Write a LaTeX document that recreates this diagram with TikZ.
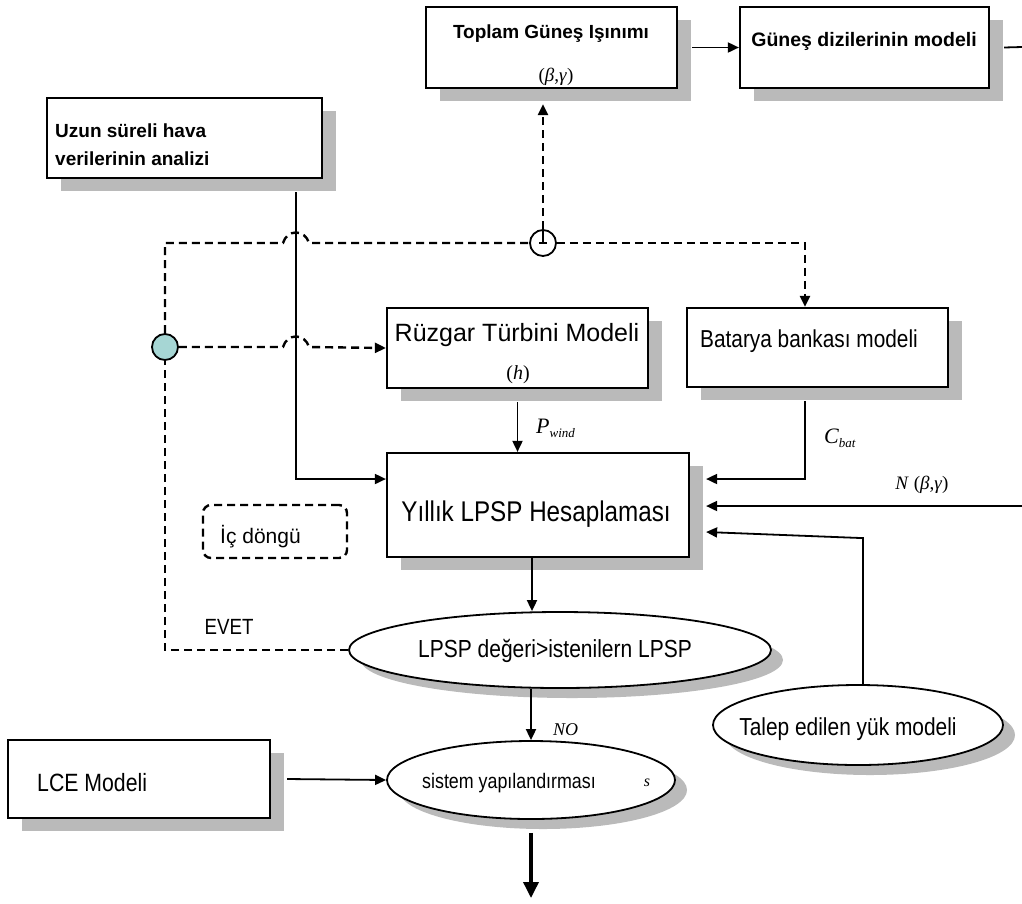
\documentclass[tikz,border=0pt]{standalone}
\usepackage{fontspec}
\setmainfont{Liberation Sans}
\newfontfamily\narrowf{Liberation Sans}[FakeStretch=0.85]
\newfontfamily\serf{Liberation Serif}
\usetikzlibrary{arrows.meta,shadows,shapes.geometric}
\definecolor{shadowgray}{RGB}{186,186,186}
\definecolor{tealfill}{RGB}{166,214,212}
\newcommand{\fs}[1]{\fontsize{#1}{#1}\selectfont}
\begin{document}
\begin{tikzpicture}[x=1pt,y=-1pt,
  boxshadow/.style={drop shadow={shadow xshift=14pt,shadow yshift=-13pt,fill=shadowgray,opacity=1}},
  block/.style={rectangle,draw=black,line width=2.2pt,fill=white,inner sep=0pt,boxshadow},
  oval/.style={ellipse,draw=black,line width=1.8pt,fill=white,inner sep=0pt,
    drop shadow={shadow xshift=12pt,shadow yshift=-10pt,fill=shadowgray,opacity=1}},
  lab/.style={inner sep=0pt,anchor=center},
  flow/.style={line width=1.8pt,-{Triangle[length=11pt,width=10pt]}},
  plain/.style={line width=1.8pt},
  dashline/.style={line width=2.4pt,dash pattern=on 8pt off 5pt},
  dashlinear/.style={dashline,-{Triangle[length=11pt,width=10pt]}},
  junction/.style={circle,draw=black,line width=1.8pt,minimum size=26pt,inner sep=0pt},
]
\useasboundingbox (0,0) rectangle (1022,903);

% --- blocks ---
\node[block,minimum width=251pt,minimum height=81pt] (toplam) at (551.5,47.5) {};
\node[lab,font=\bfseries\fs{19}] (toplamT) at (551,34) {Toplam Güneş Işınımı};
\node[lab,font=\serf\fs{19}] (toplamB) at (556,77) {(\textit{β},\textit{γ})};

\node[block,minimum width=249pt,minimum height=81pt] (gunes) at (864.5,47.5) {};
\node[lab,font=\bfseries\fs{19.5}] (gunesT) at (864,41) {Güneş dizilerinin modeli};

\node[block,minimum width=275pt,minimum height=80pt] (uzun) at (184.5,138) {};
\node[lab,anchor=base west,font=\bfseries\fs{19}] (uzunT1) at (55,137) {Uzun süreli hava};
\node[lab,anchor=base west,font=\bfseries\fs{19}] (uzunT2) at (55,165) {verilerinin analizi};

\node[block,minimum width=261pt,minimum height=80pt] (ruzgar) at (517.5,348) {};
\node[lab,font=\fs{25}] (ruzgarT) at (517,335) {Rüzgar Türbini Modeli};
\node[lab,font=\serf\fs{20}] (ruzgarH) at (518,375) {(\textit{h})};

\node[block,minimum width=261pt,minimum height=79pt] (batarya) at (817.5,347.5) {};
\node[lab,anchor=west,font=\narrowf\fs{24.5}] (bataryaT) at (700,341) {Batarya bankası modeli};

\node[block,minimum width=302pt,minimum height=104pt] (lpsp) at (538,505) {};
\node[lab,font=\narrowf\fs{28.5}] (lpspT) at (536,514) {Yıllık LPSP Hesaplaması};

\node[draw,dashline,rounded corners=8pt,minimum width=144pt,minimum height=53pt] (ic) at (275,531.5) {};
\node[lab,anchor=west,font=\fs{21}] (icT) at (220,537) {İç döngü};

\node[lab,font=\narrowf\fs{22}] (evet) at (229,627) {EVET};

\node[oval,minimum width=422pt,minimum height=76pt] (lpspell) at (560,650) {};
\node[lab,font=\narrowf\fs{24.7}] (lpspellT) at (555,651) {LPSP değeri>istenilern LPSP};

\node[oval,minimum width=290pt,minimum height=80pt] (talep) at (858,725) {};
\node[lab,font=\narrowf\fs{24.6}] (talepT) at (848,729) {Talep edilen yük modeli};

\node[oval,minimum width=288pt,minimum height=78pt] (sistem) at (531,780) {};
\node[lab,font=\narrowf\fs{21}] (sistemT) at (509,783) {sistem yapılandırması};
\node[lab,font=\serf\itshape\fs{16}] (sistemS) at (647,783) {s};

\node[block,minimum width=262pt,minimum height=78pt] (lce) at (139,779) {};
\node[lab,anchor=west,font=\narrowf\fs{25}] (lceT) at (37,783) {LCE Modeli};

% --- junctions ---
\node[junction,fill=tealfill] (tc) at (165,347) {};
\node[junction,fill=white] (oc) at (543,243) {};
\draw[line width=1.8pt] (oc.north) -- (oc.center);
\draw[line width=1.8pt] ([xshift=-4pt]oc.center) -- ([xshift=4pt]oc.center);

% --- signal labels ---
\node[lab,anchor=west,font=\serf\itshape\fs{22}] (pw) at (536,428) {P\raisebox{-4pt}{\fs{13}wind}};
\node[lab,anchor=west,font=\serf\itshape\fs{22}] (cb) at (824,438) {C\raisebox{-4pt}{\fs{13}bat}};
\node[lab,font=\serf\fs{19}] (nb) at (922,485) {\textit{N} (\textit{β},\textit{γ})};
\node[lab,anchor=west,font=\serf\itshape\fs{18}] (no) at (553,730) {NO};

% --- free ends ---
\coordinate (outR) at (1022,47);
\coordinate (inN) at (1022,506);
\coordinate (outB) at (531,898);

% --- solid connectors ---
\draw[flow] ([xshift=14pt]toplam.east) -- (gunes.west);
\draw[plain] ([xshift=14pt]gunes.east) -- (outR);
\draw[flow] ([xshift=111.5pt,yshift=-13pt]uzun.south) |- ([yshift=26pt]lpsp.west);
\draw[flow] ([yshift=-13pt]ruzgar.south) -- (ruzgar.south |- lpsp.north);
\draw[flow] ([xshift=-12.5pt,yshift=-13pt]batarya.south) |- ([xshift=16pt,yshift=26pt]lpsp.east);
\draw[flow] (inN) -- ([xshift=16pt,yshift=-1pt]lpsp.east);
\draw[flow] ([xshift=5pt]talep.north) -- ++(0,-146) -- ([xshift=16pt,yshift=-27pt]lpsp.east);
\draw[flow] ([xshift=-6pt]lpsp.south) -- ([xshift=-6pt]lpsp.south |- lpspell.north);
\draw[flow] (lpspell.south -| sistem.north) -- (sistem.north);
\draw[flow] ([xshift=16pt]lce.east) -- (sistem.west);
\draw[line width=3.5pt,-{Triangle[length=16pt,width=15pt]}] ([yshift=-13pt]sistem.south) -- (outB);

% --- dashed inner loop ---
\draw[dashline] (lpspell.west) -| (tc.south);
\draw[dashline] (tc.north) |- (283,243) .. controls (287,229) and (305,229) .. (309,243) -- (oc.west);
\draw[dashlinear] (oc.east) -| ([xshift=-12.5pt]batarya.north);
\draw[dashlinear] (oc.north) -- ([xshift=-8.5pt,yshift=-15pt]toplam.south);
\draw[dashlinear] (tc.east) -- (283,347) .. controls (287,333) and (305,333) .. (309,347) -- (ruzgar.west);
\end{tikzpicture}
\end{document}
